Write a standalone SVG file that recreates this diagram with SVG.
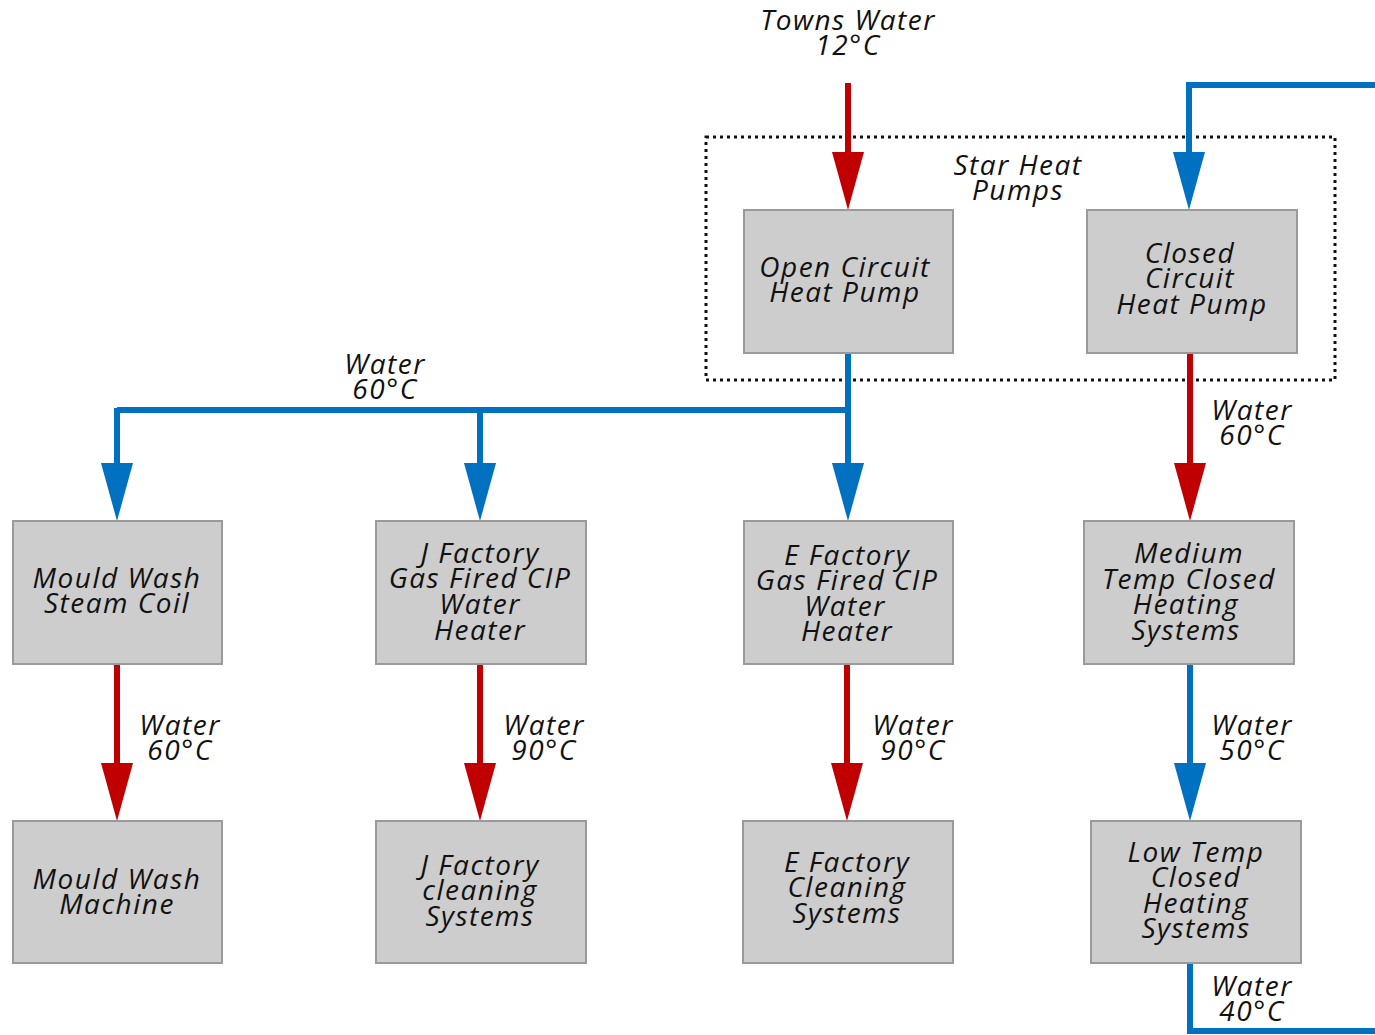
<svg xmlns="http://www.w3.org/2000/svg" width="1375" height="1035" viewBox="0 0 1375 1035">
<style>
.box{fill:#cdcdcd;stroke:#9a9a9a;stroke-width:2}
text{font-family:"Open Sans","DejaVu Sans",sans-serif;font-style:italic;font-size:28px;letter-spacing:1.5px;fill:#111;text-anchor:middle}
.r{stroke:#c00000;stroke-width:6;fill:none}
.b{stroke:#0070c0;stroke-width:6;fill:none}
.ra{marker-end:url(#ar)}
.ba{marker-end:url(#ab)}
</style>
<defs>
<marker id="ar" markerUnits="userSpaceOnUse" markerWidth="58" markerHeight="32" refX="0" refY="16" orient="auto"><path d="M0,0 L58,16 L0,32 z" fill="#c00000"/></marker>
<marker id="ab" markerUnits="userSpaceOnUse" markerWidth="58" markerHeight="32" refX="0" refY="16" orient="auto"><path d="M0,0 L58,16 L0,32 z" fill="#0070c0"/></marker>
</defs>
<rect width="1375" height="1035" fill="#fff"/>
<rect id="star-heat-pumps" x="706" y="137" width="629" height="243" fill="none" stroke="#111" stroke-width="3" stroke-dasharray="3 4"/>
<g id="connectors">
<path class="r ra" d="M848,83 V152"/>
<path class="b ba" d="M1375,85 H1189 V152"/>
<path class="b" d="M848,353 V410 H117"/>
<path class="b ba" d="M848,410 V463"/>
<path class="b ba" d="M117,408 V463"/>
<path class="b ba" d="M480,410 V463"/>
<path class="r ra" d="M1190,353 V463"/>
<path class="r ra" d="M117,664 V763"/>
<path class="r ra" d="M480,664 V763"/>
<path class="r ra" d="M847,664 V763"/>
<path class="b ba" d="M1190,664 V763"/>
<path class="b" d="M1190,963 V1031 H1375"/>
</g>
<g id="labels">
<text x="848" y="30">Towns Water</text><text x="848" y="55">12°C</text>
<text x="1018" y="175">Star Heat</text><text x="1018" y="200">Pumps</text>
<text x="385" y="374">Water</text><text x="385" y="399">60°C</text>
<text x="1252" y="420">Water</text><text x="1252" y="445">60°C</text>
<text x="180" y="735">Water</text><text x="180" y="760">60°C</text>
<text x="544" y="735">Water</text><text x="544" y="760">90°C</text>
<text x="913" y="735">Water</text><text x="913" y="760">90°C</text>
<text x="1252" y="735">Water</text><text x="1252" y="760">50°C</text>
<text x="1252" y="996">Water</text><text x="1252" y="1021">40°C</text>
</g>
<g id="open-circuit"><rect class="box" x="744" y="210" width="209" height="143"/><text x="845" y="277">Open Circuit</text><text x="845" y="302">Heat Pump</text></g>
<g id="closed-circuit"><rect class="box" x="1087" y="210" width="210" height="143"/><text x="1190" y="263">Closed</text><text x="1190" y="288">Circuit</text><text x="1192" y="314">Heat Pump</text></g>
<g id="mould-steam"><rect class="box" x="13" y="521" width="209" height="143"/><text x="117" y="588">Mould Wash</text><text x="117" y="613">Steam Coil</text></g>
<g id="j-heater"><rect class="box" x="376" y="521" width="210" height="143"/><text x="480" y="563">J Factory</text><text x="480" y="588">Gas Fired CIP</text><text x="480" y="614">Water</text><text x="480" y="640">Heater</text></g>
<g id="e-heater"><rect class="box" x="744" y="521" width="209" height="143"/><text x="847" y="565">E Factory</text><text x="847" y="590">Gas Fired CIP</text><text x="845" y="616">Water</text><text x="847" y="641">Heater</text></g>
<g id="medium-temp"><rect class="box" x="1084" y="521" width="210" height="143"/><text x="1189" y="563">Medium</text><text x="1189" y="589">Temp Closed</text><text x="1186" y="614">Heating</text><text x="1186" y="640">Systems</text></g>
<g id="mould-machine"><rect class="box" x="13" y="821" width="209" height="142"/><text x="117" y="889">Mould Wash</text><text x="117" y="914">Machine</text></g>
<g id="j-cleaning"><rect class="box" x="376" y="821" width="210" height="142"/><text x="480" y="875">J Factory</text><text x="480" y="900">cleaning</text><text x="480" y="926">Systems</text></g>
<g id="e-cleaning"><rect class="box" x="743" y="821" width="210" height="142"/><text x="847" y="872">E Factory</text><text x="847" y="897">Cleaning</text><text x="847" y="923">Systems</text></g>
<g id="low-temp"><rect class="box" x="1091" y="821" width="210" height="142"/><text x="1196" y="862">Low Temp</text><text x="1196" y="887">Closed</text><text x="1196" y="913">Heating</text><text x="1196" y="938">Systems</text></g>
</svg>
